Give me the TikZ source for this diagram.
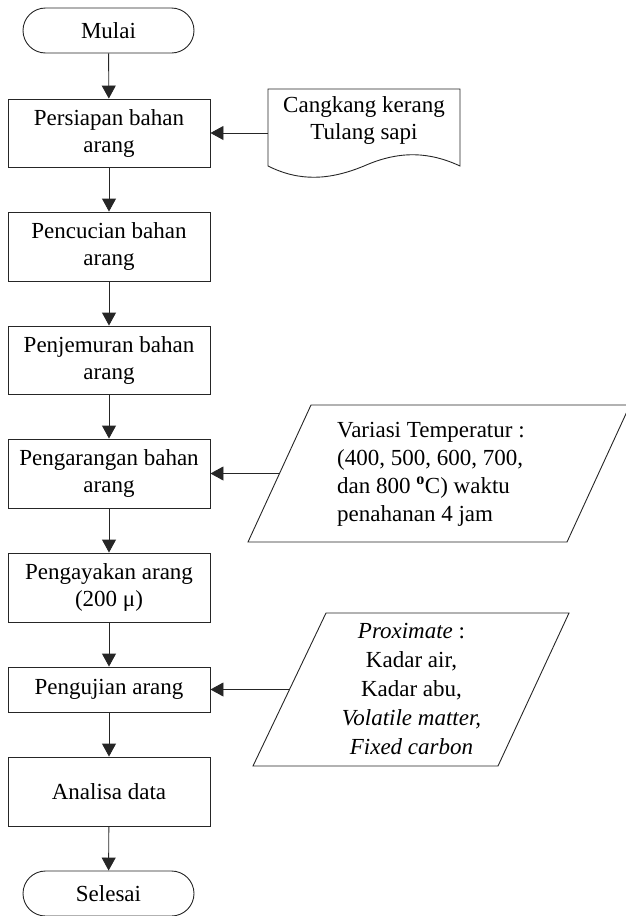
\documentclass[tikz,border=0pt]{standalone}
\usepackage{fontspec}
\setmainfont{Liberation Serif}
\usetikzlibrary{arrows.meta}
\begin{document}
\begin{tikzpicture}[x=1pt,y=-1pt,
  font=\fontsize{23}{27}\selectfont,
  line/.style={draw=black!85, line width=0.9pt},
  stepbox/.style={line, rectangle, minimum width=202pt, inner sep=2pt, align=center},
  term/.style={line, rectangle, rounded corners=22.5pt, minimum width=171pt, minimum height=45pt, inner sep=0pt},
  arr/.style={line, -{Triangle[width=14pt,length=13pt]}}]
\useasboundingbox (0,0) rectangle (625,916);

% main column
\node[term] (mulai) at (108.5,30.5) {Mulai};
\node[stepbox, minimum height=68pt] (persiapan) at (109,133) {Persiapan bahan\\arang};
\node[stepbox, minimum height=69pt] (pencucian) at (109,246.5) {Pencucian bahan\\arang};
\node[stepbox, minimum height=68pt] (penjemuran) at (109,360) {Penjemuran bahan\\arang};
\node[stepbox, minimum height=69pt] (pengarangan) at (109,473.5) {Pengarangan bahan\\arang};
\node[stepbox, minimum height=69pt] (pengayakan) at (109,587.5) {Pengayakan arang\\(200 μ)};
\node[stepbox, minimum height=45pt] (pengujian) at (109,689.5) {Pengujian arang};
\node[stepbox, minimum height=69pt] (analisa) at (109,791.5) {Analisa data};
\node[term] (selesai) at (108.5,893.5) {Selesai};

\draw[arr] (mulai) -- (persiapan);
\draw[arr] (persiapan) -- (pencucian);
\draw[arr] (pencucian) -- (penjemuran);
\draw[arr] (penjemuran) -- (pengarangan);
\draw[arr] (pengarangan) -- (pengayakan);
\draw[arr] (pengayakan) -- (pengujian);
\draw[arr] (pengujian) -- (analisa);
\draw[arr] (analisa) -- (selesai);

% document shape
\draw[line] (268,166) -- (268,89) -- (460,89) -- (460,166)
  .. controls (430,152) and (400,150) .. (364,166)
  .. controls (330,180) and (300,182) .. (268,166);
\node[align=center, inner sep=0pt] (bahan) at (364,120) {Cangkang kerang\\Tulang sapi};
\coordinate (docL) at (268,133);
\draw[arr] (docL) -- (persiapan.east);

% parallelogram 1
\draw[line] (311,405) -- (630,405) -- (567,542) -- (248,542) -- cycle;
\node[align=left, anchor=west, inner sep=0pt, font=\fontsize{23}{28}\selectfont] (variasi) at (337,474)
  {Variasi Temperatur :\\(400, 500, 600, 700,\\dan 800 \textsuperscript{\textbf{o}}C) waktu\\penahanan 4 jam};
\coordinate (p1in) at (279,473.5);
\draw[arr] (p1in) -- (pengarangan.east);

% parallelogram 2
\draw[line] (326,613) -- (569,613) -- (498,766) -- (253,766) -- cycle;
\node[align=center, inner sep=0pt, font=\fontsize{23}{29}\selectfont] (proximate) at (411.5,689)
  {\textit{Proximate} :\\Kadar air,\\Kadar abu,\\\textit{Volatile matter,}\\\textit{Fixed carbon}};
\coordinate (p2in) at (289.5,689.5);
\draw[arr] (p2in) -- (pengujian.east);
\end{tikzpicture}
\end{document}
